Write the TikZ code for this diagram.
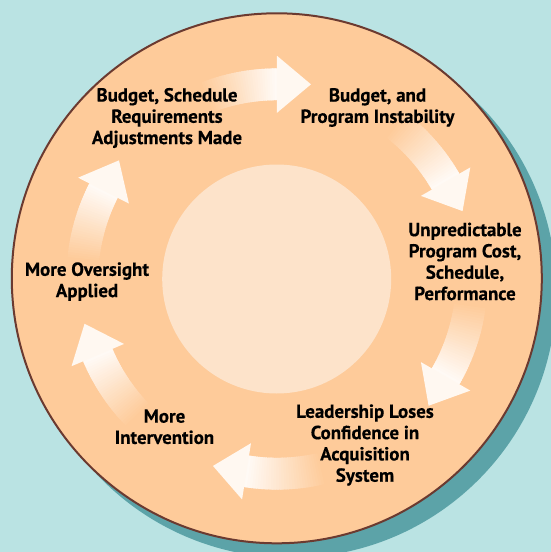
\documentclass[tikz,border=0pt]{standalone}
\usepackage{fontspec}
\setmainfont{PT Sans}[BoldFeatures={FakeBold=0.4}]
\definecolor{bg}{HTML}{BAE3E3}
\definecolor{shadowc}{HTML}{5CA3A8}
\definecolor{rim}{HTML}{6B3A30}
\definecolor{peach}{HTML}{FECB9A}
\definecolor{core}{HTML}{FDE3CA}
\definecolor{headc}{HTML}{FFF8F1}
\tikzset{
  lbl/.style={font=\fontsize{18.9}{21.3}\selectfont\bfseries, align=center, inner sep=0pt, text=black},
}
\newcommand{\cyclearrow}[2]{%
  \foreach \i in {0,...,29}{%
    \pgfmathsetmacro{\sa}{#1-(#1-#2)*\i/30}%
    \pgfmathsetmacro{\ea}{#1-(#1-#2)*(\i+1)/30-0.5}%
    \pgfmathtruncatemacro{\pc}{3*\i+3}%
    \fill[white!\pc!peach] (\sa:178.8pt) arc[start angle=\sa, end angle=\ea, radius=178.8pt]
      -- (\ea:210.6pt) arc[start angle=\ea, end angle=\sa, radius=210.6pt] -- cycle;
  }%
  \pgfmathsetmacro{\ta}{#2-9.9}%
  \fill[headc] (#2:223.2pt) -- (\ta:197.6pt) -- (#2:166.2pt) -- cycle;
}
\begin{document}
\begin{tikzpicture}[x=1pt,y=1pt]
\useasboundingbox (-277,-273) rectangle (274,279);
\clip (-277,-273) rectangle (274,279);
\fill[bg] (-277,-273) rectangle (274,279);
\fill[shadowc] (13.3,-12.8) circle[radius=266pt];
\filldraw[fill=peach, draw=rim, line width=2pt] (-0.2,0.7) circle[radius=265pt];
\fill[core] (-0.3,0) circle[radius=114.5pt];
\cyclearrow{111}{90}
\cyclearrow{52}{30}
\cyclearrow{-8}{-30}
\cyclearrow{-77}{-99}
\cyclearrow{224}{203}
\cyclearrow{174}{153}
\node[lbl] (adj) at (-110,161) {Budget, Schedule\\Requirements\\Adjustments Made};
\node[lbl] (inst) at (100.5,171.5) {Budget, and\\Program Instability};
\node[lbl] (unpred) at (188,17.5) {Unpredictable\\Program Cost,\\Schedule,\\Performance};
\node[lbl] (lead) at (88,-166) {Leadership Loses\\Confidence in\\Acquisition\\System};
\node[lbl] (interv) at (-112.5,-147.8) {More\\Intervention};
\node[lbl] (overs) at (-190,-2.6) {More Oversight\\Applied};
\end{tikzpicture}
\end{document}
